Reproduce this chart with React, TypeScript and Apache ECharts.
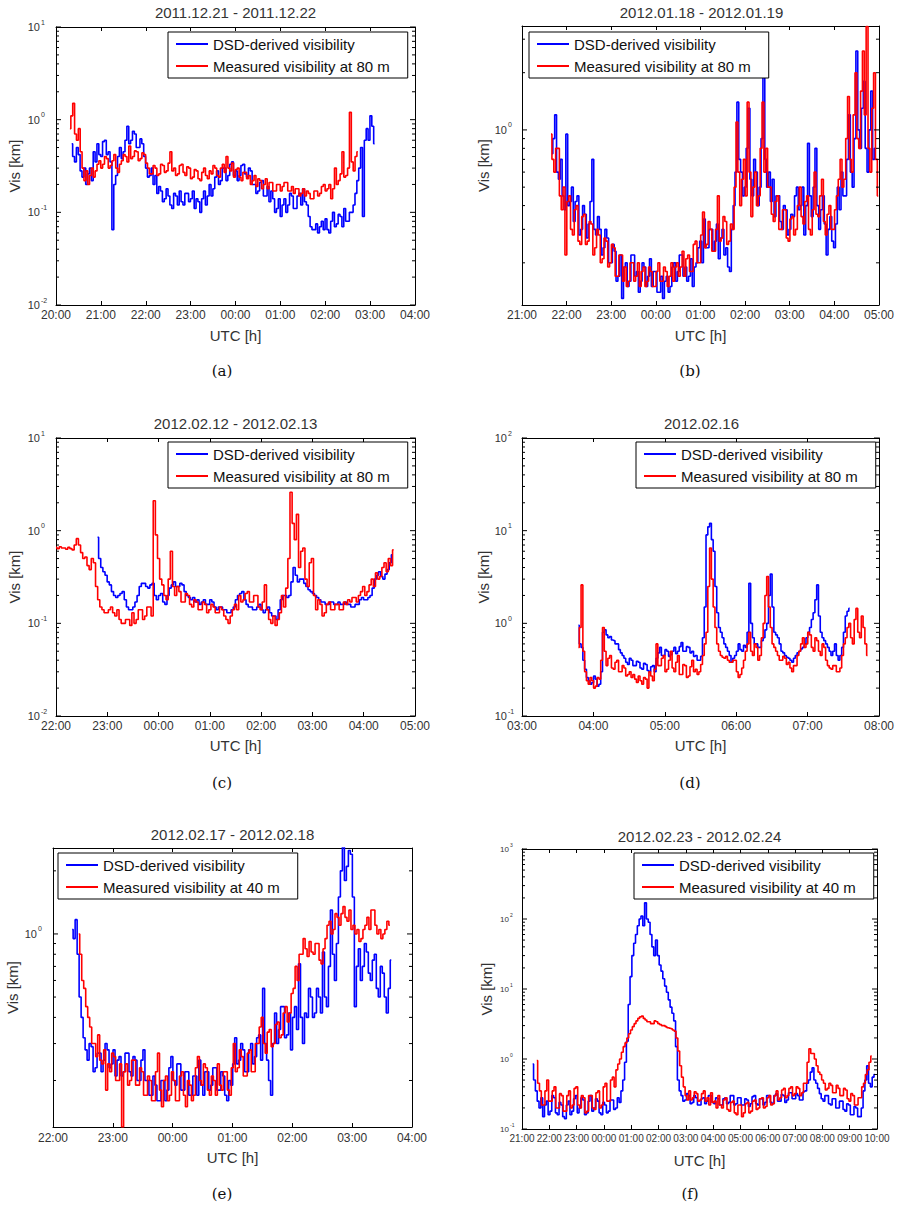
import React, { useEffect, useRef } from 'react';
import * as echarts from 'echarts';

const FONT = '"Liberation Sans", Arial, sans-serif';
const SERIF = '"DejaVu Serif", "Liberation Serif", serif';
const BLUE = '#0000ff';
const RED = '#ff0000';
const DSD_NAME = 'DSD-derived visibility';

// ---- (a) 2011.12.21 - 2011.12.22, 2.5-min samples, km ----
const aDsdStart = 20.35;
const aDsdStep = 2.5;
const aDsd = [
  0.55, 0.4, 0.35, 0.5, 0.42, 0.28, 0.24, 0.3, 0.2, 0.26, 0.3, 0.22, 0.45, 0.35, 0.55, 0.42, 0.4, 0.58, 0.6, 0.42,
  0.45, 0.35, 0.065, 0.2, 0.25, 0.4, 0.5, 0.38, 0.45, 0.6, 0.85, 0.55, 0.6, 0.75, 0.7, 0.5, 0.5, 0.62, 0.55, 0.4,
  0.3, 0.24, 0.25, 0.3, 0.2, 0.25, 0.16, 0.19, 0.17, 0.13, 0.14, 0.18, 0.15, 0.12, 0.11, 0.16, 0.15, 0.12, 0.17, 0.13,
  0.12, 0.16, 0.16, 0.13, 0.14, 0.17, 0.11, 0.14, 0.13, 0.1, 0.14, 0.17, 0.12, 0.15, 0.2, 0.15, 0.18, 0.24, 0.28, 0.2,
  0.22, 0.3, 0.3, 0.22, 0.25, 0.33, 0.35, 0.25, 0.28, 0.22, 0.25, 0.32, 0.33, 0.26, 0.24, 0.3, 0.28, 0.2, 0.2, 0.16,
  0.17, 0.21, 0.22, 0.15, 0.15, 0.19, 0.13, 0.17, 0.14, 0.1, 0.11, 0.14, 0.09, 0.12, 0.14, 0.1, 0.12, 0.16, 0.15, 0.11,
  0.11, 0.15, 0.16, 0.12, 0.18, 0.13, 0.12, 0.09, 0.07, 0.065, 0.065, 0.075, 0.06, 0.07, 0.08, 0.065, 0.085, 0.065, 0.06, 0.08,
  0.1, 0.07, 0.075, 0.095, 0.09, 0.07, 0.11, 0.08, 0.08, 0.1, 0.1, 0.12, 0.16, 0.22, 0.3, 0.5, 0.09, 0.6, 0.8, 0.6,
  1.1, 0.85, 0.55];
const aVisStart = 20.31;
const aVisStep = 2.5;
const aVis = [
  0.8, 1.1, 1.5, 0.7, 0.6, 0.8, 0.45, 0.3, 0.22, 0.28, 0.2, 0.25, 0.3, 0.24, 0.28, 0.33, 0.36, 0.3, 0.33, 0.4,
  0.38, 0.3, 0.32, 0.36, 0.42, 0.3, 0.27, 0.33, 0.36, 0.42, 0.4, 0.35, 0.52, 0.38, 0.4, 0.46, 0.45, 0.36, 0.38, 0.44,
  0.42, 0.34, 0.3, 0.26, 0.26, 0.32, 0.3, 0.25, 0.26, 0.33, 0.32, 0.27, 0.28, 0.34, 0.45, 0.28, 0.3, 0.25, 0.26, 0.32,
  0.33, 0.27, 0.25, 0.31, 0.3, 0.23, 0.24, 0.29, 0.28, 0.23, 0.22, 0.27, 0.3, 0.25, 0.23, 0.28, 0.26, 0.32, 0.3, 0.25,
  0.24, 0.3, 0.33, 0.27, 0.4, 0.3, 0.28, 0.34, 0.24, 0.29, 0.3, 0.24, 0.22, 0.27, 0.27, 0.23, 0.25, 0.2, 0.22, 0.25,
  0.19, 0.23, 0.22, 0.18, 0.2, 0.23, 0.18, 0.21, 0.21, 0.17, 0.17, 0.2, 0.2, 0.17, 0.19, 0.21, 0.21, 0.17, 0.17, 0.19,
  0.16, 0.18, 0.18, 0.15, 0.16, 0.18, 0.15, 0.17, 0.16, 0.14, 0.14, 0.17, 0.17, 0.15, 0.16, 0.19, 0.2, 0.17, 0.18, 0.2,
  0.14, 0.18, 0.3, 0.2, 0.22, 0.26, 0.45, 0.24, 0.25, 0.3, 1.2, 0.35, 0.28, 0.4, 0.45];

// ---- (b) 2012.01.18 - 2012.01.19 ----
const bDsdStart = 21.67;
const bDsdStep = 2.5;
const bDsd = [
  0.75, 0.9, 1.2, 0.6, 0.55, 0.7, 0.45, 0.38, 0.95, 0.4, 0.42, 0.5, 0.33, 0.42, 0.45, 0.28, 0.3, 0.4, 0.36, 0.27,
  0.32, 0.42, 0.7, 0.3, 0.28, 0.35, 0.3, 0.22, 0.24, 0.3, 0.27, 0.2, 0.2, 0.25, 0.23, 0.16, 0.17, 0.22, 0.13, 0.19,
  0.2, 0.15, 0.16, 0.22, 0.22, 0.17, 0.18, 0.14, 0.16, 0.2, 0.19, 0.15, 0.17, 0.21, 0.15, 0.18, 0.18, 0.14, 0.14, 0.17,
  0.13, 0.16, 0.17, 0.14, 0.15, 0.19, 0.2, 0.16, 0.18, 0.22, 0.22, 0.17, 0.19, 0.16, 0.17, 0.21, 0.15, 0.19, 0.2, 0.24,
  0.26, 0.2, 0.34, 0.24, 0.24, 0.3, 0.3, 0.23, 0.26, 0.32, 0.21, 0.27, 0.3, 0.22, 0.24, 0.19, 0.18, 0.3, 0.4, 0.6,
  1.4, 0.7, 0.6, 0.45, 0.5, 0.8, 1.3, 0.55, 0.45, 0.7, 0.6, 0.4, 0.5, 0.9, 1.9, 0.7, 0.5, 0.6, 0.42, 0.55,
  0.35, 0.45, 0.45, 0.33, 0.3, 0.4, 0.38, 0.28, 0.3, 0.36, 0.35, 0.45, 0.5, 0.38, 0.4, 0.5, 0.28, 0.4, 0.85, 0.45,
  0.35, 0.5, 0.8, 0.4, 0.3, 0.38, 0.45, 0.32, 0.22, 0.3, 0.35, 0.26, 0.24, 0.32, 0.5, 0.38, 0.6, 0.45, 0.45, 0.7,
  1.2, 0.6, 0.5, 0.9, 2.6, 1.0, 0.8, 1.3, 1.8, 0.8, 0.6, 1.0, 1.6, 0.7, 0.8];
const bVisStart = 21.65;
const bVisStep = 2.5;
const bVis = [
  0.95, 0.7, 0.6, 0.8, 0.8, 0.45, 0.38, 0.5, 0.22, 0.42, 0.45, 0.3, 0.28, 0.38, 0.4, 0.26, 0.25, 0.35, 0.36, 0.25,
  0.26, 0.33, 0.32, 0.22, 0.24, 0.3, 0.28, 0.2, 0.21, 0.27, 0.26, 0.19, 0.2, 0.25, 0.24, 0.17, 0.17, 0.22, 0.22, 0.16,
  0.19, 0.15, 0.16, 0.2, 0.2, 0.16, 0.17, 0.2, 0.15, 0.18, 0.19, 0.15, 0.16, 0.19, 0.18, 0.15, 0.15, 0.18, 0.2, 0.16,
  0.16, 0.19, 0.18, 0.15, 0.17, 0.2, 0.16, 0.19, 0.2, 0.17, 0.19, 0.23, 0.17, 0.21, 0.22, 0.18, 0.18, 0.25, 0.26, 0.2,
  0.2, 0.28, 0.37, 0.24, 0.25, 0.33, 0.3, 0.23, 0.23, 0.3, 0.45, 0.26, 0.27, 0.35, 0.33, 0.25, 0.26, 0.32, 0.3, 0.5,
  1.1, 0.6, 0.4, 0.55, 0.7, 0.45, 1.4, 0.6, 0.35, 0.5, 0.6, 0.4, 0.45, 0.8, 1.4, 0.6, 0.8, 0.5, 0.5, 0.36,
  0.33, 0.42, 0.45, 0.3, 0.3, 0.38, 0.38, 0.27, 0.26, 0.34, 0.35, 0.28, 0.3, 0.4, 0.5, 0.35, 0.32, 0.42, 0.45, 0.3,
  0.28, 0.38, 0.6, 0.36, 0.35, 0.45, 0.55, 0.33, 0.28, 0.36, 0.4, 0.3, 0.3, 0.38, 0.45, 0.55, 0.7, 0.5, 0.55, 0.9,
  1.5, 0.7, 0.6, 1.2, 2.0, 0.9, 0.8, 1.6, 2.6, 1.2, 3.5, 0.8, 0.6, 1.3, 2.0, 0.7, 0.45];

// ---- (c) 2012.02.12 - 2012.02.13 ----
const cDsdStart = 22.81;
const cDsdStep = 2.5;
const cDsd = [
  0.85, 0.5, 0.4, 0.36, 0.33, 0.28, 0.26, 0.22, 0.2, 0.19, 0.2, 0.21, 0.22, 0.18, 0.15, 0.14, 0.14, 0.15, 0.17, 0.2,
  0.25, 0.27, 0.27, 0.25, 0.24, 0.26, 0.27, 0.2, 0.18, 0.2, 0.21, 0.17, 0.16, 0.2, 0.24, 0.26, 0.28, 0.25, 0.25, 0.27,
  0.26, 0.22, 0.2, 0.19, 0.18, 0.19, 0.17, 0.18, 0.16, 0.17, 0.18, 0.16, 0.16, 0.18, 0.17, 0.15, 0.14, 0.15, 0.15, 0.14,
  0.14, 0.13, 0.13, 0.14, 0.15, 0.18, 0.2, 0.21, 0.22, 0.18, 0.16, 0.15, 0.15, 0.14, 0.14, 0.15, 0.16, 0.14, 0.13, 0.14,
  0.15, 0.13, 0.12, 0.12, 0.11, 0.14, 0.18, 0.2, 0.2, 0.19, 0.2, 0.28, 0.4, 0.33, 0.28, 0.3, 0.3, 0.27, 0.25, 0.23,
  0.22, 0.21, 0.2, 0.19, 0.18, 0.17, 0.17, 0.16, 0.16, 0.17, 0.17, 0.16, 0.16, 0.17, 0.16, 0.16, 0.17, 0.16, 0.16, 0.15,
  0.15, 0.16, 0.16, 0.18, 0.19, 0.18, 0.18, 0.19, 0.2, 0.24, 0.3, 0.33, 0.36, 0.32, 0.3, 0.34, 0.38, 0.45, 0.55];
const cVisStart = 22.0;
const cVisStep = 2.5;
const cVis = [
  0.66, 0.64, 0.67, 0.65, 0.65, 0.63, 0.66, 0.64, 0.62, 0.7, 0.82, 0.7, 0.58, 0.5, 0.52, 0.42, 0.38, 0.5, 0.45, 0.25,
  0.18, 0.15, 0.14, 0.13, 0.13, 0.14, 0.15, 0.13, 0.12, 0.14, 0.11, 0.1, 0.1, 0.11, 0.11, 0.095, 0.13, 0.1, 0.11, 0.14,
  0.14, 0.11, 0.12, 0.15, 0.15, 0.12, 2.1, 0.9, 0.5, 0.3, 0.26, 0.2, 0.18, 0.3, 0.6, 0.25, 0.2, 0.25, 0.22, 0.17,
  0.17, 0.21, 0.2, 0.16, 0.15, 0.18, 0.17, 0.14, 0.14, 0.17, 0.16, 0.13, 0.14, 0.16, 0.15, 0.13, 0.13, 0.15, 0.14, 0.12,
  0.11, 0.1, 0.12, 0.14, 0.16, 0.14, 0.2, 0.17, 0.18, 0.21, 0.22, 0.17, 0.17, 0.2, 0.2, 0.15, 0.14, 0.17, 0.26, 0.14,
  0.11, 0.1, 0.12, 0.095, 0.11, 0.13, 0.2, 0.15, 0.24, 0.5, 2.6, 1.2, 0.8, 1.5, 0.4, 0.6, 0.65, 0.3, 0.25, 0.45,
  0.5, 0.2, 0.14, 0.18, 0.16, 0.12, 0.13, 0.16, 0.17, 0.14, 0.14, 0.16, 0.16, 0.14, 0.14, 0.17, 0.16, 0.18, 0.17, 0.19,
  0.19, 0.17, 0.2, 0.22, 0.25, 0.2, 0.22, 0.26, 0.3, 0.25, 0.35, 0.3, 0.32, 0.4, 0.45, 0.36, 0.5, 0.42, 0.62];

// ---- (d) 2012.02.16, 1.5-min samples ----
const dDsdStart = 3.79;
const dDsdStep = 1.5;
const dDsd = [
  0.95, 0.6, 0.55, 0.4, 0.32, 0.26, 0.24, 0.22, 0.23, 0.27, 0.25, 0.21, 0.22, 0.3, 0.8, 0.85, 0.75, 0.7, 0.72, 0.66,
  0.65, 0.6, 0.6, 0.52, 0.48, 0.45, 0.42, 0.38, 0.36, 0.42, 0.4, 0.35, 0.35, 0.39, 0.38, 0.33, 0.32, 0.37, 0.36, 0.31,
  0.3, 0.34, 0.35, 0.3, 0.42, 0.48, 0.55, 0.45, 0.45, 0.52, 0.5, 0.44, 0.46, 0.5, 0.55, 0.47, 0.5, 0.56, 0.62, 0.5,
  0.5, 0.56, 0.55, 0.48, 0.5, 0.44, 0.45, 0.4, 0.4, 0.44, 0.7, 1.5, 9.0, 11.0, 12.0, 8.0, 6.0, 2.5, 1.3, 0.9,
  0.8, 0.7, 0.6, 0.55, 0.5, 0.45, 0.38, 0.42, 0.45, 0.5, 0.6, 0.52, 0.5, 0.58, 0.55, 0.8, 2.7, 1.0, 0.7, 0.6,
  0.6, 0.55, 0.55, 0.65, 0.7, 0.85, 1.0, 2.0, 3.4, 1.5, 0.8, 0.75, 0.7, 0.6, 0.5, 0.48, 0.45, 0.43, 0.42, 0.4,
  0.38, 0.42, 0.45, 0.48, 0.5, 0.53, 0.55, 0.6, 0.7, 0.8, 0.9, 1.1, 1.3, 1.8, 2.6, 1.2, 0.8, 0.7, 0.65, 0.6,
  0.55, 0.5, 0.45, 0.5, 0.6, 0.45, 0.4, 0.45, 0.55, 0.8, 1.2, 1.35, 1.45];
const dVisStart = 3.79;
const dVisStep = 1.5;
const dVis = [
  0.55, 0.9, 2.6, 0.5, 0.3, 0.24, 0.22, 0.26, 0.24, 0.2, 0.21, 0.26, 0.25, 0.4, 0.9, 0.5, 0.35, 0.42, 0.45, 0.33,
  0.32, 0.38, 0.4, 0.3, 0.3, 0.35, 0.33, 0.27, 0.28, 0.3, 0.26, 0.28, 0.25, 0.23, 0.27, 0.24, 0.22, 0.26, 0.25, 0.2,
  0.3, 0.27, 0.24, 0.32, 0.6, 0.35, 0.35, 0.42, 0.45, 0.3, 0.32, 0.4, 0.5, 0.33, 0.3, 0.38, 0.45, 0.28, 0.28, 0.36,
  0.35, 0.26, 0.27, 0.34, 0.4, 0.3, 0.32, 0.28, 0.3, 0.36, 0.45, 0.6, 0.8, 2.5, 6.5, 3.0, 1.5, 0.9, 0.6, 0.5,
  0.45, 0.43, 0.42, 0.44, 0.4, 0.38, 0.38, 0.4, 0.4, 0.3, 0.26, 0.28, 0.33, 0.4, 0.5, 0.6, 0.8, 0.5, 0.45, 0.6,
  0.55, 0.4, 0.45, 0.7, 1.0, 2.0, 3.2, 1.5, 0.9, 0.6, 0.55, 0.5, 0.45, 0.4, 0.4, 0.44, 0.42, 0.36, 0.38, 0.33,
  0.3, 0.35, 0.35, 0.45, 0.5, 0.6, 0.7, 0.55, 0.6, 0.8, 0.75, 0.55, 0.5, 0.7, 0.65, 0.5, 0.45, 0.6, 0.55, 0.4,
  0.35, 0.33, 0.32, 0.35, 0.35, 0.3, 0.3, 0.33, 0.45, 0.6, 0.7, 0.9, 1.0, 0.7, 0.6, 1.1, 1.45, 0.8, 0.7, 1.2,
  0.9, 0.6, 0.45];

// ---- (e) 2012.02.17 - 2012.02.18, 2-min samples ----
const eDsdStart = 22.32;
const eDsdStep = 2;
const eDsd = [
  1.05, 0.95, 1.17, 0.8, 0.5, 0.4, 0.32, 0.28, 0.25, 0.3, 0.29, 0.22, 0.23, 0.27, 0.27, 0.22, 0.25, 0.3, 0.28, 0.23,
  0.24, 0.28, 0.21, 0.25, 0.26, 0.21, 0.22, 0.27, 0.27, 0.22, 0.21, 0.26, 0.25, 0.2, 0.2, 0.25, 0.28, 0.2, 0.2, 0.17,
  0.17, 0.21, 0.19, 0.16, 0.16, 0.2, 0.2, 0.16, 0.18, 0.23, 0.26, 0.2, 0.19, 0.24, 0.24, 0.18, 0.18, 0.22, 0.22, 0.17,
  0.17, 0.21, 0.21, 0.17, 0.25, 0.19, 0.17, 0.22, 0.22, 0.18, 0.19, 0.23, 0.23, 0.18, 0.18, 0.22, 0.21, 0.17, 0.16, 0.2,
  0.19, 0.24, 0.32, 0.24, 0.25, 0.3, 0.28, 0.22, 0.22, 0.28, 0.3, 0.24, 0.26, 0.32, 0.33, 0.25, 0.55, 0.3, 0.25, 0.2,
  0.17, 0.3, 0.42, 0.3, 0.35, 0.45, 0.45, 0.32, 0.33, 0.42, 0.28, 0.4, 0.45, 0.35, 0.72, 0.4, 0.3, 0.42, 0.4, 0.55,
  0.5, 0.4, 0.42, 0.55, 0.5, 0.42, 0.82, 0.5, 0.45, 0.7, 1.3, 0.8, 0.6, 0.9, 1.5, 2.0, 2.6, 1.8, 2.1, 2.5,
  2.4, 1.5, 0.45, 0.7, 0.85, 0.6, 0.7, 0.9, 0.82, 0.65, 0.6, 0.75, 0.8, 0.55, 0.5, 0.7, 0.65, 0.5, 0.42, 0.55,
  0.75];
const eVisStart = 22.43;
const eVisStep = 2;
const eVis = [
  1.0, 0.8, 0.6, 0.55, 0.45, 0.4, 0.36, 0.3, 0.3, 0.26, 0.33, 0.25, 0.24, 0.28, 0.18, 0.24, 0.22, 0.27, 0.26, 0.2,
  0.2, 0.24, 0.12, 0.22, 0.24, 0.19, 0.2, 0.25, 0.25, 0.19, 0.19, 0.23, 0.22, 0.17, 0.17, 0.21, 0.2, 0.16, 0.16, 0.22,
  0.27, 0.18, 0.15, 0.2, 0.21, 0.16, 0.17, 0.22, 0.2, 0.16, 0.16, 0.21, 0.22, 0.17, 0.15, 0.2, 0.19, 0.16, 0.17, 0.23,
  0.26, 0.2, 0.19, 0.24, 0.23, 0.18, 0.17, 0.21, 0.2, 0.17, 0.24, 0.19, 0.18, 0.22, 0.22, 0.18, 0.17, 0.23, 0.3, 0.22,
  0.23, 0.28, 0.26, 0.21, 0.21, 0.27, 0.28, 0.22, 0.22, 0.3, 0.3, 0.36, 0.4, 0.3, 0.27, 0.34, 0.35, 0.29, 0.3, 0.37,
  0.38, 0.32, 0.33, 0.42, 0.45, 0.38, 0.42, 0.52, 0.55, 0.7, 0.6, 0.8, 0.8, 0.95, 0.85, 0.78, 0.92, 0.82, 0.8, 0.9,
  0.9, 0.75, 0.72, 0.85, 0.95, 1.1, 1.15, 1.0, 1.05, 1.25, 1.2, 1.1, 1.25, 1.35, 1.2, 1.15, 1.3, 1.05, 1.1, 1.0,
  1.05, 0.92, 0.95, 1.05, 1.1, 1.2, 1.05, 1.3, 1.3, 1.1, 1.0, 1.05, 0.95, 1.0, 1.05, 1.15, 1.1];

// ---- (f) 2012.02.23 - 2012.02.24, 4-min samples ----
const fDsdStart = 21.39;
const fDsdStep = 4;
const fDsd = [
  0.85, 0.5, 0.35, 0.25, 0.2, 0.28, 0.15, 0.22, 0.25, 0.16, 0.18, 0.3, 0.28, 0.17, 0.16, 0.24, 0.22, 0.15, 0.14, 0.22,
  0.25, 0.16, 0.18, 0.27, 0.3, 0.17, 0.2, 0.28, 0.26, 0.16, 0.17, 0.25, 0.3, 0.18, 0.2, 0.27, 0.25, 0.17, 0.16, 0.24,
  0.22, 0.17, 0.18, 0.26, 0.26, 0.19, 0.2, 0.28, 0.24, 0.35, 0.5, 0.9, 1.8, 6.0, 15, 30, 45, 60, 80, 100,
  110, 80, 170, 100, 90, 60, 40, 30, 50, 30, 22, 18, 14, 11, 9, 7, 5.5, 4.5, 3.5, 1.5,
  0.5, 0.35, 0.3, 0.25, 0.26, 0.32, 0.3, 0.23, 0.24, 0.3, 0.28, 0.22, 0.22, 0.27, 0.28, 0.23, 0.25, 0.3, 0.3, 0.24,
  0.23, 0.28, 0.27, 0.22, 0.22, 0.27, 0.28, 0.23, 0.24, 0.3, 0.3, 0.22, 0.23, 0.28, 0.28, 0.22, 0.22, 0.27, 0.26, 0.21,
  0.23, 0.29, 0.3, 0.23, 0.22, 0.27, 0.27, 0.22, 0.24, 0.3, 0.3, 0.24, 0.23, 0.3, 0.32, 0.25, 0.25, 0.31, 0.3, 0.24,
  0.26, 0.33, 0.33, 0.27, 0.27, 0.32, 0.3, 0.26, 0.26, 0.34, 0.35, 0.45, 0.5, 0.65, 0.75, 0.5, 0.45, 0.38, 0.32, 0.27,
  0.25, 0.3, 0.3, 0.23, 0.22, 0.27, 0.27, 0.2, 0.2, 0.25, 0.25, 0.19, 0.18, 0.23, 0.22, 0.16, 0.16, 0.21, 0.2, 0.15,
  0.15, 0.2, 0.35, 0.5, 0.8, 0.45, 0.4, 0.55, 0.6];
const fVisStart = 21.54;
const fVisStep = 4;
const fVis = [
  0.95, 0.45, 0.35, 0.22, 0.22, 0.35, 0.5, 0.25, 0.25, 0.35, 0.4, 0.2, 0.2, 0.32, 0.3, 0.18, 0.18, 0.3, 0.35, 0.2,
  0.22, 0.38, 0.4, 0.22, 0.2, 0.3, 0.28, 0.17, 0.18, 0.3, 0.3, 0.2, 0.19, 0.33, 0.35, 0.2, 0.22, 0.4, 0.45, 0.25,
  0.25, 0.5, 0.55, 0.4, 0.7, 0.85, 1.0, 1.25, 1.5, 1.7, 2.0, 2.3, 2.6, 2.9, 3.2, 3.5, 3.8, 4.0, 4.1, 3.8,
  3.6, 3.4, 3.4, 3.2, 3.2, 3.5, 3.4, 3.2, 3.1, 3.0, 3.0, 2.9, 2.8, 2.75, 2.7, 2.6, 2.5, 2.0, 1.3, 0.8,
  0.55, 0.4, 0.3, 0.26, 0.35, 0.26, 0.28, 0.34, 0.32, 0.25, 0.26, 0.32, 0.35, 0.25, 0.28, 0.22, 0.33, 0.24, 0.25, 0.2,
  0.3, 0.22, 0.2, 0.26, 0.28, 0.19, 0.18, 0.24, 0.25, 0.17, 0.16, 0.22, 0.22, 0.15, 0.17, 0.23, 0.24, 0.17, 0.18, 0.25,
  0.26, 0.19, 0.2, 0.27, 0.28, 0.2, 0.21, 0.28, 0.3, 0.22, 0.23, 0.3, 0.35, 0.26, 0.28, 0.36, 0.38, 0.28, 0.3, 0.38,
  0.4, 0.3, 0.32, 0.4, 0.38, 0.3, 0.33, 0.45, 0.45, 0.9, 1.4, 1.2, 1.2, 1.0, 0.8, 0.65, 0.6, 0.5, 0.45, 0.36,
  0.38, 0.45, 0.42, 0.33, 0.33, 0.42, 0.38, 0.3, 0.3, 0.38, 0.36, 0.27, 0.25, 0.32, 0.3, 0.22, 0.22, 0.28, 0.28, 0.4,
  0.45, 0.6, 0.7, 0.9, 1.1];

// Exponents of the labelled decades on each panel's y axis
const aDecades = [-2, -1, 0, 1];
const bDecades = [0];
const cDecades = [-2, -1, 0, 1];
const dDecades = [-1, 0, 1, 2];
const eDecades = [0];
const fDecades = [-1, 0, 1, 2, 3];

const toPairs = (start: number, stepMin: number, vals: number[]) =>
  vals.map((v, i) => [+(start + (i * stepMin) / 60).toFixed(4), v]);

const hourLabel = (v: number) => {
  const h = ((Math.round(v) % 24) + 24) % 24;
  return (h < 10 ? '0' : '') + h + ':00';
};

type Panel = {
  title: string; caption: string; capX: number; capY: number; titleY: number;
  grid: { left: number; top: number; width: number; height: number };
  xMin: number; xMax: number; yMin: number; yMax: number; decades: number[];
  legend: { left: number; top: number }; visName: string;
  dsd: number[][]; vis: number[][];
  yNameGap: number; xNameGap: number; xLabelFs: number; xLabelMargin: number;
  yLabelFs: number; expFs: number; labelGap: number;
};

const panels: Panel[] = [
  {
    title: '2011.12.21 - 2011.12.22', caption: '(a)', capX: 222, capY: 371, titleY: 12,
    grid: { left: 56, top: 27, width: 359, height: 278 },
    xMin: 20, xMax: 28, yMin: 0.01, yMax: 10, decades: aDecades,
    legend: { left: 168, top: 32 }, visName: 'Measured visibility at 80 m',
    dsd: toPairs(aDsdStart, aDsdStep, aDsd), vis: toPairs(aVisStart, aVisStep, aVis),
    yNameGap: 34, xNameGap: 23, xLabelFs: 12, xLabelMargin: 4, yLabelFs: 11, expFs: 7, labelGap: 16,
  },
  {
    title: '2012.01.18 - 2012.01.19', caption: '(b)', capX: 690, capY: 371, titleY: 12,
    grid: { left: 522, top: 26, width: 359, height: 279 },
    xMin: 21, xMax: 29, yMin: 0.12, yMax: 3.52, decades: bDecades,
    legend: { left: 529, top: 32 }, visName: 'Measured visibility at 80 m',
    dsd: toPairs(bDsdStart, bDsdStep, bDsd), vis: toPairs(bVisStart, bVisStep, bVis),
    yNameGap: 31, xNameGap: 23, xLabelFs: 12, xLabelMargin: 4, yLabelFs: 11, expFs: 7, labelGap: 15,
  },
  {
    title: '2012.02.12 - 2012.02.13', caption: '(c)', capX: 222, capY: 783, titleY: 423,
    grid: { left: 56, top: 438, width: 359, height: 278 },
    xMin: 22, xMax: 29, yMin: 0.01, yMax: 10, decades: cDecades,
    legend: { left: 168, top: 442 }, visName: 'Measured visibility at 80 m',
    dsd: toPairs(cDsdStart, cDsdStep, cDsd), vis: toPairs(cVisStart, cVisStep, cVis),
    yNameGap: 34, xNameGap: 22, xLabelFs: 12, xLabelMargin: 4, yLabelFs: 11, expFs: 7, labelGap: 16,
  },
  {
    title: '2012.02.16', caption: '(d)', capX: 690, capY: 783, titleY: 423,
    grid: { left: 522, top: 438, width: 359, height: 278 },
    xMin: 3, xMax: 8, yMin: 0.1, yMax: 100, decades: dDecades,
    legend: { left: 636, top: 442 }, visName: 'Measured visibility at 80 m',
    dsd: toPairs(dDsdStart, dDsdStep, dDsd), vis: toPairs(dVisStart, dVisStep, dVis),
    yNameGap: 31, xNameGap: 22, xLabelFs: 12, xLabelMargin: 4, yLabelFs: 11, expFs: 7, labelGap: 15,
  },
  {
    title: '2012.02.17 - 2012.02.18', caption: '(e)', capX: 222, capY: 1194, titleY: 834,
    grid: { left: 53, top: 848, width: 359, height: 279 },
    xMin: 22, xMax: 28, yMin: 0.12, yMax: 2.57, decades: eDecades,
    legend: { left: 58, top: 853 }, visName: 'Measured visibility at 40 m',
    dsd: toPairs(eDsdStart, eDsdStep, eDsd), vis: toPairs(eVisStart, eVisStep, eVis),
    yNameGap: 33, xNameGap: 23, xLabelFs: 12, xLabelMargin: 5, yLabelFs: 11, expFs: 7, labelGap: 16,
  },
  {
    title: '2012.02.23 - 2012.02.24', caption: '(f)', capX: 690, capY: 1194, titleY: 836,
    grid: { left: 522, top: 849, width: 355, height: 280 },
    xMin: 21, xMax: 34, yMin: 0.1, yMax: 1000, decades: fDecades,
    legend: { left: 634, top: 853 }, visName: 'Measured visibility at 40 m',
    dsd: toPairs(fDsdStart, fDsdStep, fDsd), vis: toPairs(fVisStart, fVisStep, fVis),
    yNameGap: 28, xNameGap: 24, xLabelFs: 10, xLabelMargin: 4, yLabelFs: 8, expFs: 5, labelGap: 13,
  },
];

// Log-axis tick rows: [x, value, isMajor, exponent]
function tickRows(p: Panel) {
  const rows: number[][] = [];
  p.decades.forEach((e) => rows.push([p.xMin, Math.pow(10, e), 1, e]));
  const lo = Math.floor(Math.log10(p.yMin));
  const hi = Math.floor(Math.log10(p.yMax));
  for (let d = lo; d <= hi; d++) {
    for (let m = 2; m <= 9; m++) {
      const v = m * Math.pow(10, d);
      if (v >= p.yMin && v <= p.yMax) rows.push([p.xMin, v, 0, 0]);
    }
  }
  return rows;
}

function tickRenderer(p: Panel) {
  return (params: any, api: any) => {
    const cs = params.coordSys;
    const major = api.value(2) === 1;
    const y = api.coord([api.value(0), api.value(1)])[1];
    const len = major ? 5 : 3;
    const stroke = { stroke: '#000', lineWidth: 1 };
    const children: any[] = [
      { type: 'line', shape: { x1: cs.x, y1: y, x2: cs.x + len, y2: y }, style: stroke },
      { type: 'line', shape: { x1: cs.x + cs.width - len, y1: y, x2: cs.x + cs.width, y2: y }, style: stroke },
    ];
    if (major) {
      children.push({
        type: 'text', x: cs.x - p.labelGap, y,
        style: { text: '10', align: 'right', verticalAlign: 'middle', fontSize: p.yLabelFs, fontFamily: FONT, fill: '#333' },
      });
      children.push({
        type: 'text', x: cs.x - p.labelGap + 1, y: y - p.yLabelFs * 0.45,
        style: { text: String(api.value(3)), align: 'left', verticalAlign: 'middle', fontSize: p.expFs, fontFamily: FONT, fill: '#333' },
      });
    }
    return { type: 'group', children };
  };
}

function buildOption() {
  const grid: any[] = [];
  const xAxis: any[] = [];
  const yAxis: any[] = [];
  const series: any[] = [];
  const legend: any[] = [];
  const graphic: any[] = [];
  const line = { show: true, lineStyle: { color: '#000', width: 1 } };

  panels.forEach((p, i) => {
    grid.push({ ...p.grid, containLabel: false });
    xAxis.push({
      type: 'value', gridIndex: i, position: 'bottom', min: p.xMin, max: p.xMax, interval: 1,
      axisLine: line, splitLine: { show: false },
      axisTick: { show: true, inside: true, length: 4, lineStyle: { color: '#000' } },
      axisLabel: { formatter: hourLabel, fontSize: p.xLabelFs, fontFamily: FONT, color: '#333', margin: p.xLabelMargin },
      name: 'UTC [h]', nameLocation: 'middle', nameGap: p.xNameGap,
      nameTextStyle: { fontSize: 15, fontFamily: FONT, color: '#333', verticalAlign: 'top' },
    });
    xAxis.push({
      type: 'value', gridIndex: i, position: 'top', min: p.xMin, max: p.xMax, interval: 1,
      axisLine: line, splitLine: { show: false }, axisLabel: { show: false },
      axisTick: { show: true, inside: true, length: 4, lineStyle: { color: '#000' } },
    });
    yAxis.push({
      type: 'log', gridIndex: i, position: 'left', min: p.yMin, max: p.yMax, logBase: 10,
      axisLine: line, splitLine: { show: false }, axisTick: { show: false }, axisLabel: { show: false },
      name: 'Vis [km]', nameLocation: 'middle', nameGap: p.yNameGap, nameRotate: 90,
      nameTextStyle: { fontSize: 15, fontFamily: FONT, color: '#333' },
    });
    yAxis.push({
      type: 'log', gridIndex: i, position: 'right', min: p.yMin, max: p.yMax, logBase: 10,
      axisLine: line, splitLine: { show: false }, axisTick: { show: false }, axisLabel: { show: false },
    });

    series.push({
      type: 'line', name: DSD_NAME, xAxisIndex: 2 * i, yAxisIndex: 2 * i, data: p.dsd, step: 'middle',
      showSymbol: false, symbol: 'none', color: BLUE, lineStyle: { color: BLUE, width: 1.6 }, z: 2,
    });
    series.push({
      type: 'line', name: p.visName, xAxisIndex: 2 * i, yAxisIndex: 2 * i, data: p.vis, step: 'middle',
      showSymbol: false, symbol: 'none', color: RED, lineStyle: { color: RED, width: 1.6 }, z: 3,
    });
    series.push({
      type: 'custom', xAxisIndex: 2 * i, yAxisIndex: 2 * i, data: tickRows(p),
      renderItem: tickRenderer(p), silent: true, clip: false, z: 4,
    });

    legend.push({
      orient: 'vertical', left: p.legend.left, top: p.legend.top,
      data: [DSD_NAME, p.visName], selectedMode: false,
      icon: 'rect', itemWidth: 32, itemHeight: 2, itemGap: 4,
      padding: [3, 18, 3, 8],
      backgroundColor: '#fff', borderColor: '#000', borderWidth: 1,
      textStyle: { fontSize: 15, lineHeight: 18, fontFamily: FONT, color: '#111' },
      z: 10,
    });

    const cx = p.grid.left + p.grid.width / 2;
    graphic.push({
      type: 'text', x: cx, y: p.titleY,
      style: { text: p.title, fontSize: 15, fontFamily: FONT, fill: '#333', align: 'center', verticalAlign: 'middle' },
    });
    graphic.push({
      type: 'text', x: p.capX, y: p.capY,
      style: { text: p.caption, fontSize: 15, fontFamily: SERIF, fill: '#111', align: 'center', verticalAlign: 'middle' },
    });
  });

  return {
    animation: false,
    backgroundColor: '#fff',
    textStyle: { fontFamily: FONT },
    grid, xAxis, yAxis, series, legend, graphic,
  };
}

export default function App() {
  const ref = useRef<HTMLDivElement>(null);
  useEffect(() => {
    if (!ref.current) return;
    const chart = echarts.init(ref.current, null, { renderer: 'svg' });
    chart.setOption(buildOption());
    return () => chart.dispose();
  }, []);
  return (
    <div
      ref={ref}
      style={{ position: 'absolute', left: 0, top: 0, width: 897, height: 1208, background: '#fff' }}
    />
  );
}
